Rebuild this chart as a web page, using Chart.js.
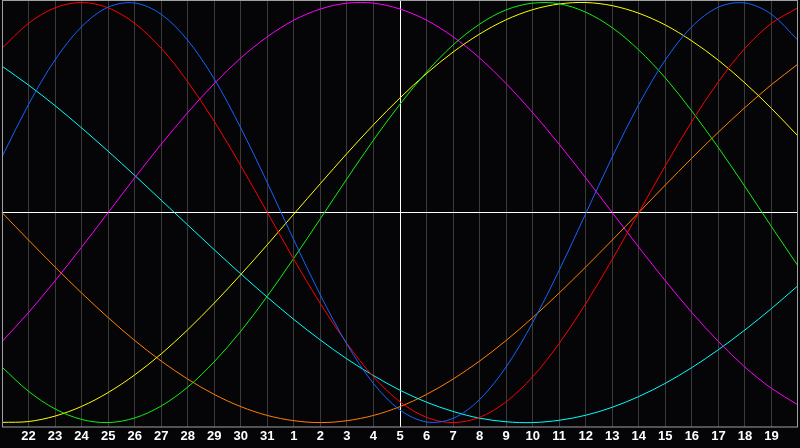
<!DOCTYPE html>
<html>
<head>
<meta charset="utf-8">
<script src="https://cdn.jsdelivr.net/npm/chart.js@4.4.0/dist/chart.umd.min.js"></script>
<style>
  html, body { margin: 0; padding: 0; background: #050508; }
  #wrap { width: 800px; height: 448px; }
</style>
</head>
<body>
<div id="wrap"><canvas id="bio"></canvas></div>
<script>
// ===== DIAS (eixo x) =====
const days = ['21','22','23','24','25','26','27','28','29','30','31',
              '1','2','3','4','5','6','7','8','9','10','11','12','13','14','15','16','17','18','19','20'];
const todayIndex = 15; // dia 5

// ===== CURVAS (valores em %) =====
const blueVals    = [26.5,51.5,72.7,88.5,97.8,99.8,94.4,82.0,63.6,40.3,14.2,-13.1,-39.3,-62.7,-81.4,-94.0,-99.7,-98.0,-89.0,-73.5,-52.4,-27.5,-0.5,26.5,51.5,72.7,88.5,97.8,99.8,94.4,82.0];
const redVals     = [78.2,90.1,97.5,100,97.5,90.1,78.2,62.3,43.4,22.3,0,-22.3,-43.4,-62.3,-78.2,-90.1,-97.5,-100,-97.5,-90.1,-78.2,-62.3,-43.4,-22.3,0,22.3,43.4,62.3,78.2,90.1,97.5];
const greenVals   = [-73.6,-85.1,-93.5,-98.5,-100,-97.8,-92.1,-83.1,-71.0,-56.5,-39.8,-21.7,-2.9,16.1,34.5,51.6,66.9,79.8,89.7,96.5,99.7,99.4,95.4,88.0,77.4,64.1,48.3,30.9,12.4,-6.7,-25.4];
const yellowVals  = [-99.9,-99.5,-96.9,-92.3,-85.7,-77.3,-67.3,-55.8,-43.1,-29.5,-15.3,-0.7,13.8,28.1,41.8,54.6,66.2,76.4,85.0,91.8,96.6,99.3,100,98.5,94.9,89.3,81.7,72.5,61.7,49.6,36.4];
const magentaVals = [-61.4,-47.6,-32.5,-16.5,0,16.5,32.5,47.6,61.4,73.6,83.7,91.6,96.9,99.7,99.7,96.9,91.6,83.7,73.6,61.4,47.6,32.5,16.5,0,-16.5,-32.5,-47.6,-61.4,-73.6,-83.7,-91.6];
const cyanVals    = [69.7,60.7,50.9,40.3,29.2,17.7,5.9,-5.9,-17.7,-29.2,-40.3,-50.9,-60.7,-69.7,-77.6,-84.6,-90.3,-94.7,-97.9,-99.6,-100,-98.9,-96.5,-92.7,-87.6,-81.3,-73.8,-65.3,-55.9,-45.7,-34.8];
const orangeVals  = [0,-13.1,-25.9,-38.3,-50,-60.9,-70.7,-79.3,-86.6,-92.4,-96.6,-99.1,-100,-99.1,-96.6,-92.4,-86.6,-79.3,-70.7,-60.9,-50,-38.3,-25.9,-13.1,0,13.1,25.9,38.3,50,60.9,70.7];

const series = [
    { vals: blueVals,    cor: '#1464ff' },
    { vals: redVals,     cor: '#ff0000' },
    { vals: greenVals,   cor: '#10f010' },
    { vals: yellowVals,  cor: '#ffff00' },
    { vals: magentaVals, cor: '#ff00ff' },
    { vals: cyanVals,    cor: '#00ffff' },
    { vals: orangeVals,  cor: '#ff8000' }
];

// ===== FUNDO E MOLDURA =====
const moldura = {
    id: 'moldura',
    beforeDraw(chart) {
        const c = chart.ctx;
        c.save();
        c.fillStyle = '#050508';
        c.fillRect(0, 0, chart.width, chart.height);
        c.restore();
    },
    afterDraw(chart) {
        const c = chart.ctx, a = chart.chartArea;
        c.save();
        c.strokeStyle = '#a0a0a0';
        c.lineWidth = 1;
        c.strokeRect(a.left + 0.5, a.top + 0.5, a.right - a.left - 1, a.bottom - a.top - 0.5);
        c.restore();
    }
};

new Chart(document.getElementById('bio').getContext('2d'), {
    type: 'line',
    data: {
        labels: days,
        datasets: series.map(s => ({
            data: s.vals.map(v => v / 100),
            borderColor: s.cor,
            borderWidth: 1,
            pointRadius: 0,
            tension: 0.33,
            fill: false
        }))
    },
    options: {
        responsive: true,
        maintainAspectRatio: false,
        animation: false,
        layout: { padding: { top: 0, left: 0, right: 0, bottom: 1.4 } },
        plugins: { legend: { display: false }, tooltip: { enabled: false } },
        scales: {
            x: {
                offset: false,
                border: { display: false },
                grid: {
                    drawTicks: false,
                    color: ctx => ctx.index === todayIndex ? '#ffffff'
                        : (ctx.index === 0 || ctx.index === days.length - 1 ? 'transparent' : '#3a3a3a')
                },
                ticks: {
                    autoSkip: false,
                    maxRotation: 0,
                    padding: 2,
                    color: '#ffffff',
                    font: { family: 'Liberation Sans', size: 13, weight: 'bold' },
                    callback: (v, i) => (i === 0 || i === days.length - 1) ? '' : days[i]
                }
            },
            y: {
                min: -1.021,
                max: 1.012,
                border: { display: false },
                afterBuildTicks: axis => { axis.ticks = [{ value: 0 }]; },
                grid: { drawTicks: false, color: '#ffffff' },
                ticks: { display: false }
            }
        }
    },
    plugins: [moldura]
});
</script>
</body>
</html>
